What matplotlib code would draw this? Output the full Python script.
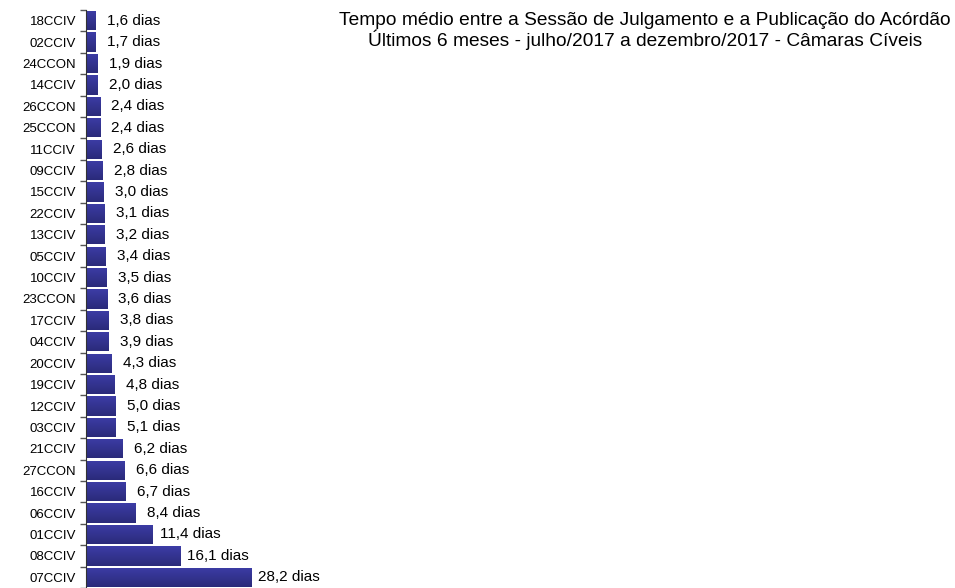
import numpy as np
import matplotlib.pyplot as plt
from matplotlib.colors import LinearSegmentedColormap

plt.rcParams['font.family'] = ['Liberation Sans', 'DejaVu Sans']

camaras = ['18CCIV', '02CCIV', '24CCON', '14CCIV', '26CCON', '25CCON', '11CCIV',
           '09CCIV', '15CCIV', '22CCIV', '13CCIV', '05CCIV', '10CCIV', '23CCON',
           '17CCIV', '04CCIV', '20CCIV', '19CCIV', '12CCIV', '03CCIV', '21CCIV',
           '27CCON', '16CCIV', '06CCIV', '01CCIV', '08CCIV', '07CCIV']
dias = [1.6, 1.7, 1.9, 2.0, 2.4, 2.4, 2.6, 2.8, 3.0, 3.1, 3.2, 3.4, 3.5, 3.6,
        3.8, 3.9, 4.3, 4.8, 5.0, 5.1, 6.2, 6.6, 6.7, 8.4, 11.4, 16.1, 28.2]

titulo = ('Tempo médio entre a Sessão de Julgamento e a Publicação do Acórdão\n'
          'Últimos 6 meses - julho/2017 a dezembro/2017 - Câmaras Cíveis')

fig = plt.figure(figsize=(9.55, 5.88), dpi=100)
ax = fig.add_axes([86 / 955, 0, 1 - 86 / 955, 1 - 10 / 588])

cmap = LinearSegmentedColormap.from_list('barra', ['#3d3da6', '#2a2a7a'])
grad = np.linspace(0, 1, 50).reshape(-1, 1)

n = len(camaras)
y = np.arange(n)
h = 0.9
bars = ax.barh(y, dias, height=h, color='#33338f')
for b, v in zip(bars, dias):
    im = ax.imshow(grad, cmap=cmap, aspect='auto', origin='upper',
                   extent=[0, v, b.get_y() + h, b.get_y()], zorder=2)
    im.set_clip_path(b)
    # rótulo centrado a ~38 px do fim da barra
    ax.annotate(f'{v:.1f} dias'.replace('.', ','), (v, b.get_y() + h / 2),
                xytext=(27.4, 0), textcoords='offset points', va='center',
                ha='center', fontsize=11)

ax.set_ylim(n - 0.5, -0.5)
ax.set_xlim(0, (955 - 86) / ((252 - 87) / 28.2))
ax.set_yticks(y)
ax.set_yticklabels(camaras, fontsize=9.5)
ax.set_yticks(np.arange(n + 1) - 0.5, minor=True)
ax.tick_params(axis='y', which='major', length=0, pad=7.2)
ax.tick_params(axis='y', which='minor', length=4, width=1, color='#555555')
ax.set_xticks([])
for s in ['top', 'right', 'bottom']:
    ax.spines[s].set_visible(False)
ax.spines['left'].set_color('#333333')

fig.text(645 / 955, 1 - 31 / 588, titulo, ha='center', va='center',
         fontsize=13.8, linespacing=1.05)

fig.savefig('out.png', dpi=100)
